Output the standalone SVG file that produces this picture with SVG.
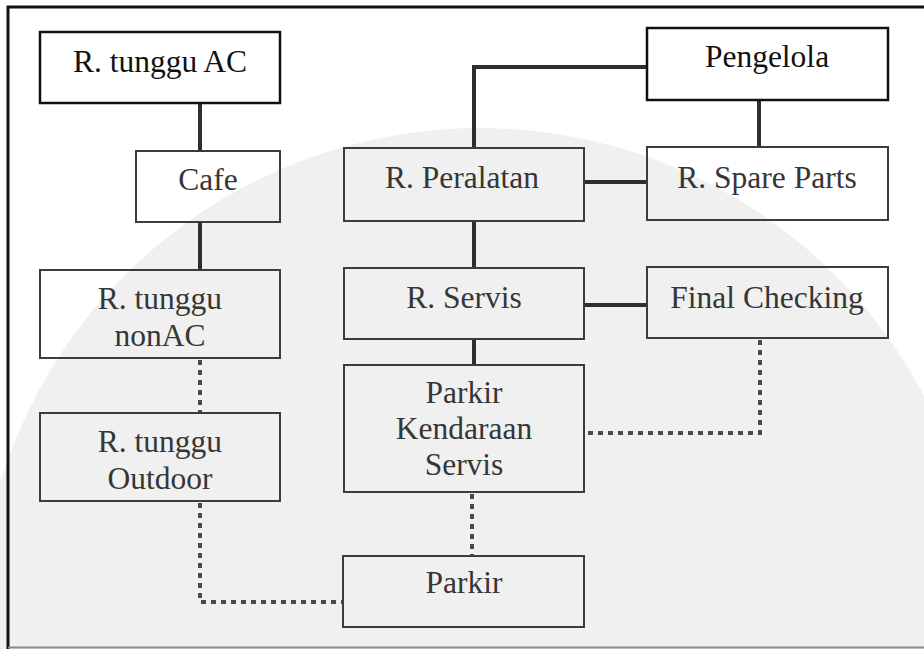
<svg xmlns="http://www.w3.org/2000/svg" width="924" height="649" viewBox="0 0 924 649">
  <style>
    .lbl { font-family: "Liberation Serif", "DejaVu Serif", serif; font-size: 31.5px; text-anchor: middle; fill: #363636; }
    .lbl.dark { fill: #111; }
    .box { fill: none; stroke: #3c3c3c; stroke-width: 2; }
    .box.dark { fill: #fff; stroke: #111; stroke-width: 2.5; }
    .solid { fill: none; stroke: #2e2e2e; stroke-width: 4; }
    .dotted { fill: none; stroke: #4a4a4a; stroke-width: 4; stroke-dasharray: 5 5; }
  </style>

  <rect width="924" height="649" fill="#fff"/>

  <!-- faint seal in the background -->
  <g id="seal">
    <circle cx="480" cy="630" r="502" fill="#f0f0f0"/>
  </g>

  <!-- outer frame -->
  <g id="frame">
    <path d="M 8 649 V 7 H 924" fill="none" stroke="#111" stroke-width="3"/>
    <line x1="8" y1="647.5" x2="924" y2="647.5" stroke="#8a8a8a" stroke-width="2"/>
  </g>

  <g id="connectors">
    <line class="solid" x1="200" y1="103" x2="200" y2="151"/>
    <line class="solid" x1="200" y1="222" x2="200" y2="270"/>
    <path class="solid" d="M 474 148 V 67 H 647"/>
    <line class="solid" x1="759" y1="100" x2="759" y2="147"/>
    <line class="solid" x1="584" y1="182" x2="647" y2="182"/>
    <line class="solid" x1="474" y1="221" x2="474" y2="268"/>
    <line class="solid" x1="584" y1="305" x2="647" y2="305"/>
    <line class="solid" x1="474" y1="339" x2="474" y2="365"/>
    <line class="dotted" x1="200" y1="360" x2="200" y2="413"/>
    <path class="dotted" d="M 200 503 V 602 H 343"/>
    <line class="dotted" x1="472" y1="494" x2="472" y2="556"/>
    <path class="dotted" d="M 760 340 V 433 H 586"/>
  </g>

  <g id="r-tunggu-ac">
    <rect class="box dark" x="40" y="32" width="240" height="71"/>
    <text class="lbl dark" x="160" y="72">R. tunggu AC</text>
  </g>
  <g id="pengelola">
    <rect class="box dark" x="647" y="28" width="241" height="72"/>
    <text class="lbl dark" x="767" y="67">Pengelola</text>
  </g>
  <g id="cafe">
    <rect class="box" x="136" y="151" width="144" height="71"/>
    <text class="lbl" x="208" y="190">Cafe</text>
  </g>
  <g id="r-peralatan">
    <rect class="box" x="344" y="148" width="240" height="73"/>
    <text class="lbl" x="462" y="188">R. Peralatan</text>
  </g>
  <g id="r-spare-parts">
    <rect class="box" x="647" y="147" width="241" height="73"/>
    <text class="lbl" x="767" y="188">R. Spare Parts</text>
  </g>
  <g id="r-tunggu-nonac">
    <rect class="box" x="40" y="270" width="240" height="88"/>
    <text class="lbl" x="160" y="309">R. tunggu</text>
    <text class="lbl" x="160" y="346">nonAC</text>
  </g>
  <g id="r-servis">
    <rect class="box" x="344" y="268" width="240" height="71"/>
    <text class="lbl" x="464" y="308">R. Servis</text>
  </g>
  <g id="final-checking">
    <rect class="box" x="647" y="267" width="241" height="71"/>
    <text class="lbl" x="767" y="308">Final Checking</text>
  </g>
  <g id="parkir-kendaraan-servis">
    <rect class="box" x="344" y="365" width="240" height="127"/>
    <text class="lbl" x="464" y="403">Parkir</text>
    <text class="lbl" x="464" y="439">Kendaraan</text>
    <text class="lbl" x="464" y="475">Servis</text>
  </g>
  <g id="r-tunggu-outdoor">
    <rect class="box" x="40" y="413" width="240" height="88"/>
    <text class="lbl" x="160" y="452">R. tunggu</text>
    <text class="lbl" x="160" y="489">Outdoor</text>
  </g>
  <g id="parkir">
    <rect class="box" x="343" y="556" width="241" height="71"/>
    <text class="lbl" x="464" y="593">Parkir</text>
  </g>
</svg>
